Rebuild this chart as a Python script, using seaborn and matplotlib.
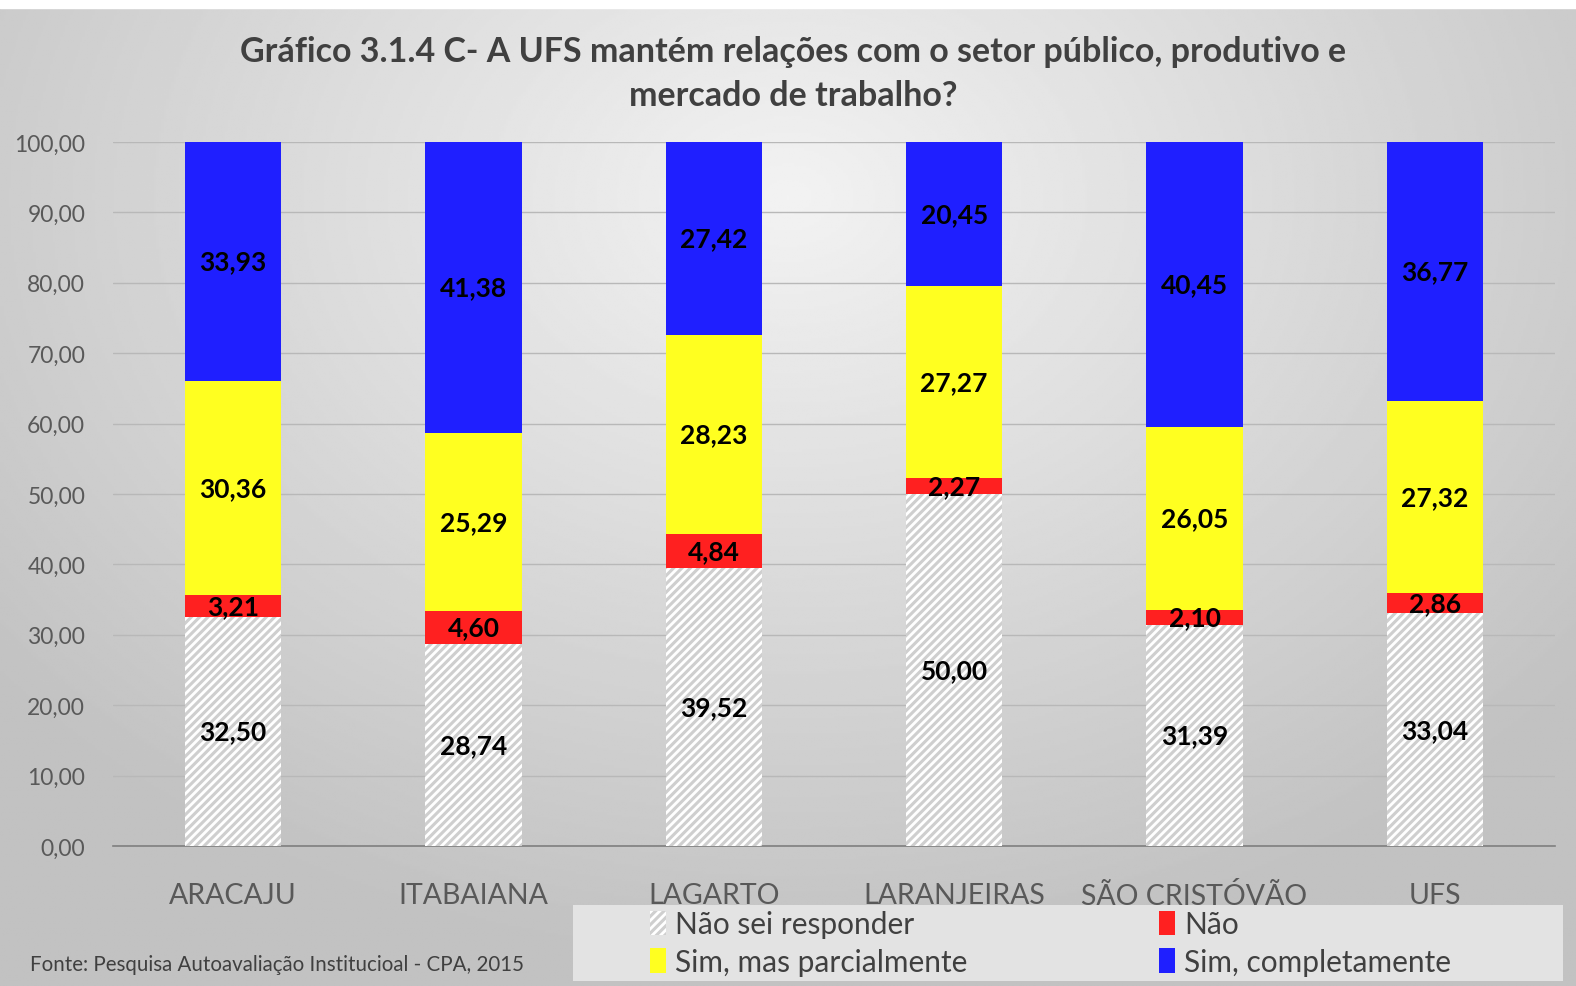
import numpy as np
import pandas as pd
import matplotlib
matplotlib.use("Agg")
import matplotlib.pyplot as plt
import seaborn as sns

# data
campus = ["ARACAJU", "ITABAIANA", "LAGARTO", "LARANJEIRAS", "SÃO CRISTÓVÃO", "UFS"]
nao_sei = [32.50, 28.74, 39.52, 50.00, 31.39, 33.04]
nao = [3.21, 4.60, 4.84, 2.27, 2.10, 2.86]
sim_parcial = [30.36, 25.29, 28.23, 27.27, 26.05, 27.32]
sim_completo = [33.93, 41.38, 27.42, 20.45, 40.45, 36.77]

series = [
    ("Não sei responder", nao_sei, "white"),
    ("Não", nao, "#ff2020"),
    ("Sim, mas parcialmente", sim_parcial, "#ffff20"),
    ("Sim, completamente", sim_completo, "#1f1fff"),
]

sns.set_theme(style="white")
plt.rcParams["font.family"] = ["Lato", "DejaVu Sans"]
plt.rcParams["hatch.linewidth"] = 2.2

fig = plt.figure(figsize=(15.76, 9.87), dpi=100)

# radial grey background
bg = fig.add_axes([0, 0, 1, 1], zorder=-10)
yy, xx = np.mgrid[0:1:400j, 0:1:640j]
r = np.sqrt(((xx - 0.5) / 0.75) ** 2 + ((yy - 0.2) / 0.9) ** 2)
shade = np.clip(0.95 - 0.22 * r, 0.76, 0.95)
bg.imshow(shade, cmap="gray", vmin=0, vmax=1, extent=[0, 1, 0, 1], aspect="auto", origin="upper")
bg.fill_between([0, 1], 1 - 9 / 987, 1, color="white")
# legend box
bg.add_patch(plt.Rectangle((573 / 1576, 1 - 982 / 987), 990 / 1576, 76 / 987,
                           facecolor="#e3e3e3", edgecolor="none"))
bg.set_xlim(0, 1)
bg.set_ylim(0, 1)
bg.axis("off")

ax = fig.add_axes([113 / 1576, 1 - 847 / 987, 1442 / 1576, 704 / 987])
ax.patch.set_alpha(0)

bottom = np.zeros(len(campus))
for name, vals, col in series:
    df = pd.DataFrame({"campus": campus, "valor": vals})
    kw = dict(hatch="////", edgecolor="#cfcfcf") if name == "Não sei responder" else dict(edgecolor=col)
    sns.barplot(data=df, x="campus", y="valor", color=col, saturation=1, width=0.4,
                bottom=bottom, linewidth=0, ax=ax, label=name, zorder=3, **kw)
    for i, v in enumerate(vals):
        ax.text(i, bottom[i] + v / 2, f"{v:.2f}".replace(".", ","), ha="center", va="center",
                fontsize=19, fontweight="bold", color="black", zorder=5)
    bottom = bottom + np.array(vals)

ax.set_ylim(0, 100)
ax.set_xlim(-0.5, 5.5)
ax.set_yticks(np.arange(0, 101, 10))
ax.set_yticklabels([f"{v:.2f}".replace(".", ",") for v in np.arange(0, 101, 10)])
ax.yaxis.grid(True, color="#b8b8b8", linewidth=1, zorder=0)
ax.set_axisbelow(True)
ax.tick_params(axis="y", labelsize=16.5, labelcolor="#595959", length=0, pad=20)
ax.tick_params(axis="x", labelsize=20.5, labelcolor="#595959", length=0, pad=26)
ax.set_xlabel("")
ax.set_ylabel("")
for s in ["top", "right", "left"]:
    ax.spines[s].set_visible(False)
ax.spines["bottom"].set_color("#7f7f7f")
ax.spines["bottom"].set_linewidth(1.2)

fig.text(793 / 1576, 1 - 74 / 987,
         "Gráfico 3.1.4 C- A UFS mantém relações com o setor público, produtivo e\nmercado de trabalho?",
         ha="center", va="center", fontsize=24.5, fontweight="bold", color="#404040", linespacing=1.45)

fig.text(30 / 1576, 1 - 965 / 987, "Fonte: Pesquisa Autoavaliação Institucioal - CPA, 2015",
         ha="left", va="center", fontsize=14.8, color="#404040")

h, l = ax.get_legend_handles_labels()
order = [0, 2, 1, 3]
leg = ax.legend([h[i] for i in order], [l[i] for i in order], ncol=2, loc="center left",
                bbox_to_anchor=(650 / 1576, 1 - 944 / 987), bbox_transform=fig.transFigure,
                frameon=False, fontsize=21.5, handlelength=0.55, handleheight=0.9,
                handletextpad=0.3, labelspacing=0.32, borderaxespad=0, borderpad=0,
                columnspacing=6.4)
for t in leg.get_texts():
    t.set_color("#404040")

fig.savefig("out.png", dpi=100)
